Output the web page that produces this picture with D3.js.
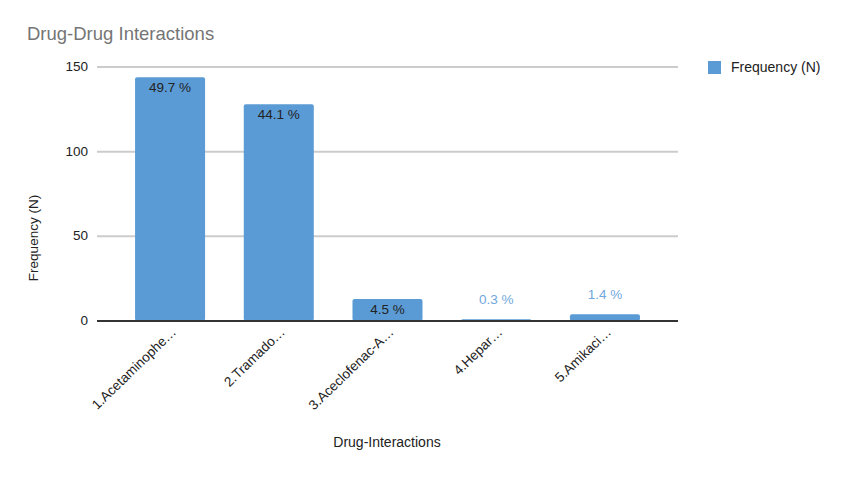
<!DOCTYPE html>
<html>
<head>
<meta charset="utf-8">
<script src="https://cdn.jsdelivr.net/npm/d3@7"></script>
<style>
	body { margin: 0; background: #fff; }
	text { font-family: "Liberation Sans", Arial, sans-serif; }
</style>
</head>
<body>
<svg id="chart" width="848" height="478"></svg>
<script>
const categories = ["1.Acetaminophe…", "2.Tramado…", "3.Aceclofenac-A…", "4.Hepar…", "5.Amikaci…"];
const frequency = [144, 128, 13, 1, 4];
const percentLabels = ["49.7 %", "44.1 %", "4.5 %", "0.3 %", "1.4 %"];
const yTicks = [0, 50, 100, 150];

const barColor = "#5b9bd5";
const svg = d3.select("#chart");

const plot = { left: 97, right: 678, top: 67, bottom: 321 };

const x = d3.scaleBand()
	.domain(categories)
	.range([plot.left, plot.right])
	.paddingInner(0.356)
	.paddingOuter(0.35);

const y = d3.scaleLinear()
	.domain([0, 150])
	.range([plot.bottom, plot.top]);

// title
svg.append("text")
	.attr("x", 27)
	.attr("y", 40)
	.attr("font-size", 18.5)
	.attr("fill", "#757575")
	.text("Drug-Drug Interactions");

// gridlines + y tick labels
const grid = svg.append("g");
grid.selectAll("line")
	.data(yTicks.filter(d => d > 0))
	.enter()
	.append("line")
	.attr("x1", plot.left)
	.attr("x2", plot.right)
	.attr("y1", d => y(d))
	.attr("y2", d => y(d))
	.attr("stroke", "#cccccc")
	.attr("stroke-width", 2);

grid.selectAll("text")
	.data(yTicks)
	.enter()
	.append("text")
	.attr("x", 88)
	.attr("y", d => y(d) + 4)
	.attr("text-anchor", "end")
	.attr("font-size", 13.5)
	.attr("fill", "#222")
	.text(d => d);

// bars
svg.append("g")
	.selectAll("rect")
	.data(frequency)
	.enter()
	.append("rect")
	.attr("x", (d, i) => x(categories[i]))
	.attr("y", d => y(d))
	.attr("width", x.bandwidth())
	.attr("height", d => y(0) - y(d))
	.attr("rx", 2)
	.attr("fill", barColor);

// data labels: inside for tall bars, above for tiny ones
svg.append("g")
	.selectAll("text")
	.data(frequency)
	.enter()
	.append("text")
	.attr("x", (d, i) => x(categories[i]) + x.bandwidth() / 2)
	.attr("y", d => (y(0) - y(d) > 15) ? y(d) + 15 : y(d) - 15)
	.attr("text-anchor", "middle")
	.attr("font-size", 13.5)
	.attr("fill", d => (y(0) - y(d) > 15) ? "#222" : "#6fa8dc")
	.text((d, i) => percentLabels[i]);

// baseline
svg.append("line")
	.attr("x1", plot.left)
	.attr("x2", plot.right)
	.attr("y1", y(0))
	.attr("y2", y(0))
	.attr("stroke", "#333")
	.attr("stroke-width", 2);

// x category labels, rotated
svg.append("g")
	.selectAll("text")
	.data(categories)
	.enter()
	.append("text")
	.attr("transform", d => `translate(${x(d) + x.bandwidth() / 2 + 7},${plot.bottom + 12}) rotate(-44)`)
	.attr("text-anchor", "end")
	.attr("font-size", 13.5)
	.attr("fill", "#222")
	.text(d => d);

// axis titles
svg.append("text")
	.attr("x", 387)
	.attr("y", 447)
	.attr("text-anchor", "middle")
	.attr("font-size", 14)
	.attr("fill", "#222")
	.text("Drug-Interactions");

svg.append("text")
	.attr("transform", "translate(38,238) rotate(-90)")
	.attr("text-anchor", "middle")
	.attr("font-size", 13.5)
	.attr("fill", "#222")
	.text("Frequency (N)");

// legend
const legend = svg.append("g").attr("transform", "translate(708,61)");
legend.append("rect")
	.attr("width", 13)
	.attr("height", 13)
	.attr("fill", barColor);
legend.append("text")
	.attr("x", 23)
	.attr("y", 11)
	.attr("font-size", 14)
	.attr("fill", "#222")
	.text("Frequency (N)");
</script>
</body>
</html>
